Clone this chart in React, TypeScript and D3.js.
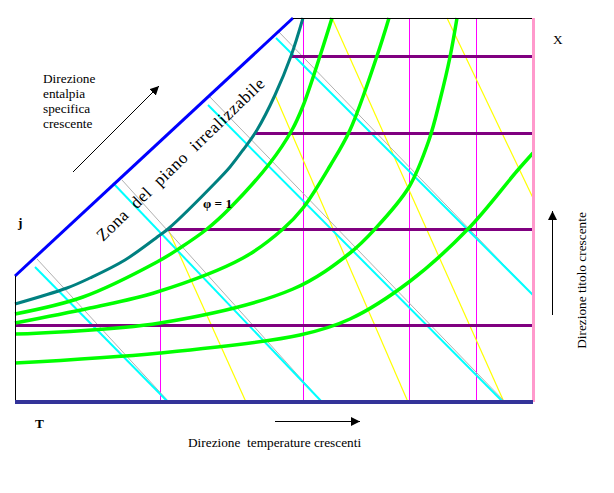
import React from "react";
import * as d3 from "d3";

const W = 614;
const H = 493;

// Abstract chart units: horizontal = temperature direction, vertical = enthalpy / humidity direction
const T_DOMAIN: [number, number] = [0, 518];
const J_DOMAIN: [number, number] = [0, 384];

// Limit line of the diagram (zona del piano irrealizzabile boundary)
const limitLine: [number, number][] = [[0, 126], [278, 384]];

// Saturation curve phi = 1
const saturationCurve: [number, number][] = [
  [0, 98], [52, 114], [75, 124], [110, 142], [145, 167], [153, 173], [203, 222],
  [215, 235], [228, 252], [242, 272], [260, 307], [276, 346], [288, 384],
];

// Constant relative-humidity curves (phi < 1)
const rh1: [number, number][] = [
  [0, 88], [68, 105], [142, 140], [165, 154], [192, 173], [215, 194],
  [255, 239], [277, 272], [288, 296], [305, 346], [317, 384],
];
const rh2: [number, number][] = [
  [0, 79], [75, 94], [142, 110], [228, 144], [268, 173], [288, 194], [315, 236],
  [335, 272], [362, 346], [374, 384],
];
const rh3: [number, number][] = [
  [0, 68], [145, 79], [278, 113], [335, 149], [360, 173], [394, 215], [414, 262],
  [425, 302], [435, 345], [442, 384],
];
const rh4: [number, number][] = [
  [0, 39], [145, 49], [285, 67], [335, 83], [394, 120], [453, 173], [502, 231], [518, 249],
];
const rhCurves = [rh1, rh2, rh3, rh4];

// Constant humidity ratio (titolo) levels
const humidityLevels = [77, 173, 269, 346];
// Isotherms
const isotherms = [145, 288, 394, 461];

// Isenthalpic lines (cyan)
const enthalpyLines: [number, number][][] = [
  [[20, 135], [153, 0]],
  [[98, 219], [307, 0]],
  [[193, 297], [488, 0]],
  [[261, 364], [518, 107]],
];
// Companion thin grey lines
const greyLines: [number, number][][] = [
  [[22, 143], [154, 0]],
  [[107, 222], [307, 0]],
  [[194, 306], [490, 0]],
  [[263, 371], [516, 109]],
];
// Yellow lines
const yellowLines: [number, number][][] = [
  [[153, 173], [231, 0]],
  [[260, 307], [393, 0]],
  [[317, 384], [489, 0]],
  [[432, 384], [518, 204]],
];

const x = d3.scaleLinear().domain(T_DOMAIN).range([15, 533]);
const y = d3.scaleLinear().domain(J_DOMAIN).range([402, 18]);

const curveGen = d3
  .line<[number, number]>()
  .x((d) => x(d[0]))
  .y((d) => y(d[1]))
  .curve(d3.curveCatmullRom.alpha(0.5));
const straight = d3
  .line<[number, number]>()
  .x((d) => x(d[0]))
  .y((d) => y(d[1]));

function satXAt(level: number): number {
  const s = saturationCurve;
  if (level <= s[0][1]) return s[0][0];
  for (let i = 1; i < s.length; i++) {
    if (level <= s[i][1]) {
      const t = (level - s[i - 1][1]) / (s[i][1] - s[i - 1][1]);
      return s[i - 1][0] + t * (s[i][0] - s[i - 1][0]);
    }
  }
  return s[s.length - 1][0];
}
function satYAt(tv: number): number {
  const s = saturationCurve;
  if (tv >= s[s.length - 1][0]) return J_DOMAIN[1];
  for (let i = 1; i < s.length; i++) {
    if (tv <= s[i][0]) {
      const t = (tv - s[i - 1][0]) / (s[i][0] - s[i - 1][0]);
      return s[i - 1][1] + t * (s[i][1] - s[i - 1][1]);
    }
  }
  return J_DOMAIN[1];
}

const serif = '"Liberation Serif", "Times New Roman", serif';

export default function App() {
  return (
    <svg
      width={W}
      height={H}
      style={{ position: "absolute", left: 0, top: 0, background: "#fff" }}
      fontFamily={serif}
    >
      <defs>
        <marker
          id="ah"
          viewBox="0 0 10 10"
          refX={10}
          refY={5}
          markerWidth={9}
          markerHeight={9}
          markerUnits="userSpaceOnUse"
          orient="auto"
        >
          <path d="M0,0 L10,5 L0,10 z" fill="#000" />
        </marker>
      </defs>
      <rect x={0} y={0} width={W} height={H} fill="#fff" />

      {/* isotherms */}
      {isotherms.map((t, i) => (
        <line
          key={"iso" + i}
          x1={x(t) + 0.5}
          x2={x(t) + 0.5}
          y1={y(0)}
          y2={y(satYAt(t))}
          stroke="#ff00ff"
          strokeWidth={1}
          shapeRendering="crispEdges"
        />
      ))}

      {/* yellow lines */}
      {yellowLines.map((l, i) => (
        <path key={"y" + i} d={straight(l) || ""} stroke="#ffff00" strokeWidth={1.2} fill="none" />
      ))}

      {/* grey lines */}
      {greyLines.map((l, i) => (
        <path key={"g" + i} d={straight(l) || ""} stroke="#b0b0b0" strokeWidth={1} fill="none" />
      ))}

      {/* isenthalpic lines */}
      {enthalpyLines.map((l, i) => (
        <path key={"c" + i} d={straight(l) || ""} stroke="#00ffff" strokeWidth={2} fill="none" />
      ))}

      {/* humidity ratio levels */}
      {humidityLevels.map((lv, i) => (
        <line
          key={"h" + i}
          x1={x(satXAt(lv))}
          x2={x(T_DOMAIN[1])}
          y1={y(lv)}
          y2={y(lv)}
          stroke="#800080"
          strokeWidth={3}
          shapeRendering="crispEdges"
        />
      ))}

      {/* relative humidity curves */}
      {rhCurves.map((c, i) => (
        <path key={"rh" + i} d={curveGen(c) || ""} stroke="#00ff00" strokeWidth={3.5} fill="none" />
      ))}

      {/* saturation curve */}
      <path d={curveGen(saturationCurve) || ""} stroke="#008080" strokeWidth={3} fill="none" />

      {/* limit line */}
      <path d={straight(limitLine) || ""} stroke="#0000ff" strokeWidth={3} fill="none" />

      {/* frame */}
      <line x1={x(0) + 0.5} x2={x(0) + 0.5} y1={y(limitLine[0][1])} y2={y(0)} stroke="#000" strokeWidth={1} shapeRendering="crispEdges" />
      <line x1={x(limitLine[1][0])} x2={x(T_DOMAIN[1])} y1={y(J_DOMAIN[1]) + 0.5} y2={y(J_DOMAIN[1]) + 0.5} stroke="#000" strokeWidth={1} shapeRendering="crispEdges" />
      <line x1={x(T_DOMAIN[1])} x2={x(T_DOMAIN[1])} y1={y(J_DOMAIN[1])} y2={y(0)} stroke="#ff99cc" strokeWidth={3} shapeRendering="crispEdges" />
      <line x1={x(0)} x2={x(T_DOMAIN[1])} y1={y(0)} y2={y(0)} stroke="#333399" strokeWidth={4} shapeRendering="crispEdges" />

      {/* annotations */}
      <g fontSize={13.3} fill="#000">
        <text x={43} y={83}>Direzione</text>
        <text x={43} y={98}>entalpia</text>
        <text x={43} y={113}>specifica</text>
        <text x={43} y={128}>crescente</text>
      </g>
      <line x1={73} y1={172} x2={159} y2={86} stroke="#000" strokeWidth={1} markerEnd="url(#ah)" />

      <text
        x={0}
        y={0}
        fontSize={17}
        textLength={226}
        lengthAdjust="spacing"
        style={{ whiteSpace: "pre" }}
        transform="translate(103,242) rotate(-44)"
      >
        {"Zona  del  piano  irrealizzabile"}
      </text>

      <text x={203} y={208} fontSize={13.3} fontWeight="bold">φ = 1</text>
      <text x={18} y={227} fontSize={13.3} fontWeight="bold">j</text>
      <text x={35} y={428} fontSize={13.3} fontWeight="bold">T</text>
      <text x={553} y={44} fontSize={13.3}>X</text>

      <line x1={275} y1={421.5} x2={360} y2={421.5} stroke="#000" strokeWidth={1} markerEnd="url(#ah)" />
      <text x={188} y={447} fontSize={13.3} style={{ whiteSpace: "pre" }}>
        {"Direzione  temperature crescenti"}
      </text>

      <line x1={552.5} y1={315} x2={552.5} y2={211} stroke="#000" strokeWidth={1} markerEnd="url(#ah)" />
      <text
        x={0}
        y={0}
        fontSize={13.3}
        textAnchor="middle"
        transform="translate(586,280.5) rotate(-90)"
      >
        Direzione titolo crescente
      </text>
    </svg>
  );
}
